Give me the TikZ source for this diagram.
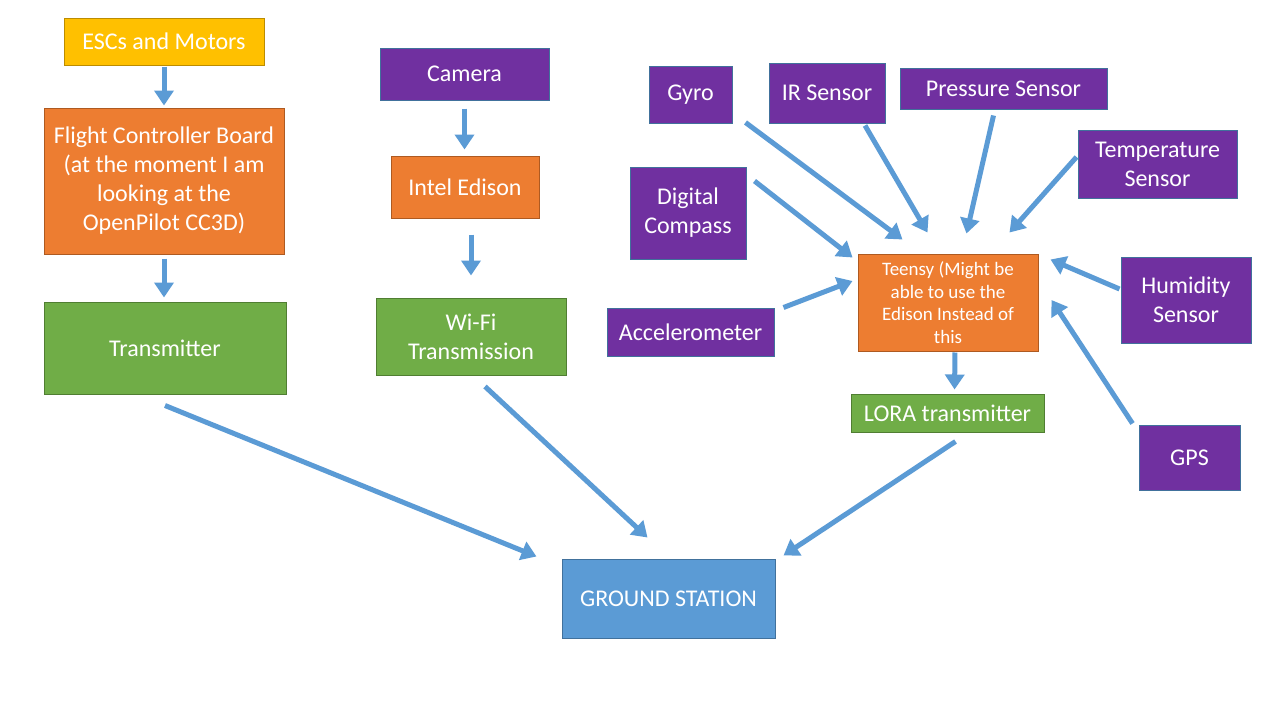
\documentclass[tikz,border=0pt]{standalone}
\usepackage{fontspec}
\setmainfont{Carlito}
\definecolor{escyellow}{RGB}{255, 192, 0}
\definecolor{escedge}{RGB}{188, 140, 0}
\definecolor{boardorange}{RGB}{237, 125, 49}
\definecolor{boardedge}{RGB}{174, 90, 33}
\definecolor{linkgreen}{RGB}{112, 173, 71}
\definecolor{linkedge}{RGB}{80, 126, 50}
\definecolor{sensorpurple}{RGB}{112, 48, 160}
\definecolor{stationblue}{RGB}{91, 155, 213}
\definecolor{shapeedge}{RGB}{65, 113, 156}
\usepackage{tikz}
\usetikzlibrary{arrows.meta, positioning, calc}

\begin{document}
\begin{tikzpicture}[x=1pt, y=-1pt,
  box/.style={rectangle, draw, line width=1pt, text=white, align=center,
    inner sep=0pt, font=\fontsize{24}{29}\selectfont},
  escbox/.style={box, fill=escyellow, draw=escedge},
  orangebox/.style={box, fill=boardorange, draw=boardedge},
  greenbox/.style={box, fill=linkgreen, draw=linkedge},
  purplebox/.style={box, fill=sensorpurple, draw=shapeedge},
  bluebox/.style={box, fill=stationblue, draw=shapeedge},
  link/.style={-{Triangle[length=15pt, width=19pt]}, stationblue, line width=5pt}]
  \useasboundingbox[fill=white] (0,0) rectangle (1280,720);

  % Drone side
  \node[escbox, minimum width=200, minimum height=47] (esc) at (164,41.5) {ESCs and Motors};
  \node[orangebox, minimum width=240, minimum height=146] (fcb) at (164,181)
    {Flight Controller Board\\(at the moment I am\\looking at the\\OpenPilot CC3D)};
  \node[greenbox, minimum width=242, minimum height=92] (tx) at (165,348) {Transmitter};

  % Camera chain
  \node[purplebox, minimum width=169, minimum height=52] (cam) at (464.5,74) {Camera};
  \node[orangebox, minimum width=148, minimum height=62] (edison) at (465,187) {Intel Edison};
  \node[greenbox, minimum width=190, minimum height=77] (wifi) at (471,336.5) {Wi-Fi\\Transmission};

  % Sensors
  \node[purplebox, minimum width=83, minimum height=57] (gyro) at (690.5,94.5) {Gyro};
  \node[purplebox, minimum width=116, minimum height=60] (ir) at (827,93) {IR Sensor};
  \node[purplebox, minimum width=207, minimum height=41] (press) at (1003.5,88.5) {Pressure Sensor};
  \node[purplebox, minimum width=159, minimum height=68] (temp) at (1157.5,164) {Temperature\\Sensor};
  \node[purplebox, minimum width=116, minimum height=92] (compass) at (688,213) {Digital\\Compass};
  \node[purplebox, minimum width=167, minimum height=48] (accel) at (690.5,332) {Accelerometer};
  \node[purplebox, minimum width=130, minimum height=86] (humid) at (1186,300) {Humidity\\Sensor};
  \node[purplebox, minimum width=101, minimum height=65] (gps) at (1189.5,457.5) {GPS};
  \node[orangebox, minimum width=180, minimum height=97, font=\fontsize{19}{22.5}\selectfont]
    (teensy) at (948,302.5) {Teensy (Might be\\able to use the\\Edison Instead of\\this};
  \node[greenbox, minimum width=193, minimum height=38] (lora) at (947.5,413) {LORA transmitter};

  % Ground
  \node[bluebox, minimum width=213, minimum height=79] (gs) at (668.5,598.5) {GROUND STATION};

  % Straight links
  \draw[link, shorten <=1pt, shorten >=2pt] (esc.south) -- (esc.south |- fcb.north);
  \draw[link, shorten <=4pt, shorten >=4pt] (esc.south |- fcb.south) -- (esc.south |- tx.north);
  \draw[link, shorten <=8pt, shorten >=6pt] (cam.south) -- (cam.south |- edison.north);
  \draw[link, shorten <=16pt, shorten >=22pt] (wifi.north |- edison.south) -- (wifi.north);
  \draw[link, shorten <=1pt, shorten >=4pt] ($(teensy.south)+(7,0)$) -- ($(lora.north)+(7,0)$);

  % Links to ground station
  \draw[link] ($(tx.south)+(0,11)$) -- ($(gs.north west)+(-25,-2)$);
  \draw[link] ($(wifi.south)+(14,11)$) -- ($(gs.north west)+(86,-21)$);
  \draw[link] ($(lora.south)+(8,9)$) -- ($(gs.north east)+(8,-3)$);

  % Sensors to Teensy
  \draw[link] ($(gyro.south east)+(13,-1)$) -- ($(teensy.north west)+(45,-14)$);
  \draw[link] ($(ir.south)+(38,2)$) -- ($(teensy.north west)+(70,-21)$);
  \draw[link] ($(press.south)+(-10,6)$) -- ($(teensy.north west)+(109,-20)$);
  \draw[link] ($(temp.west)+(-1,-7)$) -- ($(teensy.north east)+(-29,-21)$);
  \draw[link] ($(compass.east)+(8,-32)$) -- ($(teensy.north west)+(-5,4)$);
  \draw[link] ($(accel.north east)+(9,0)$) -- ($(teensy.west)+(-5,-21.5)$);
  \draw[link] ($(humid.west)+(-1,-11)$) -- ($(teensy.north east)+(12,6)$);
  \draw[link] ($(gps.north west)+(-6,-1)$) -- ($(teensy.east)+(13,-2.5)$);
\end{tikzpicture}
\end{document}
